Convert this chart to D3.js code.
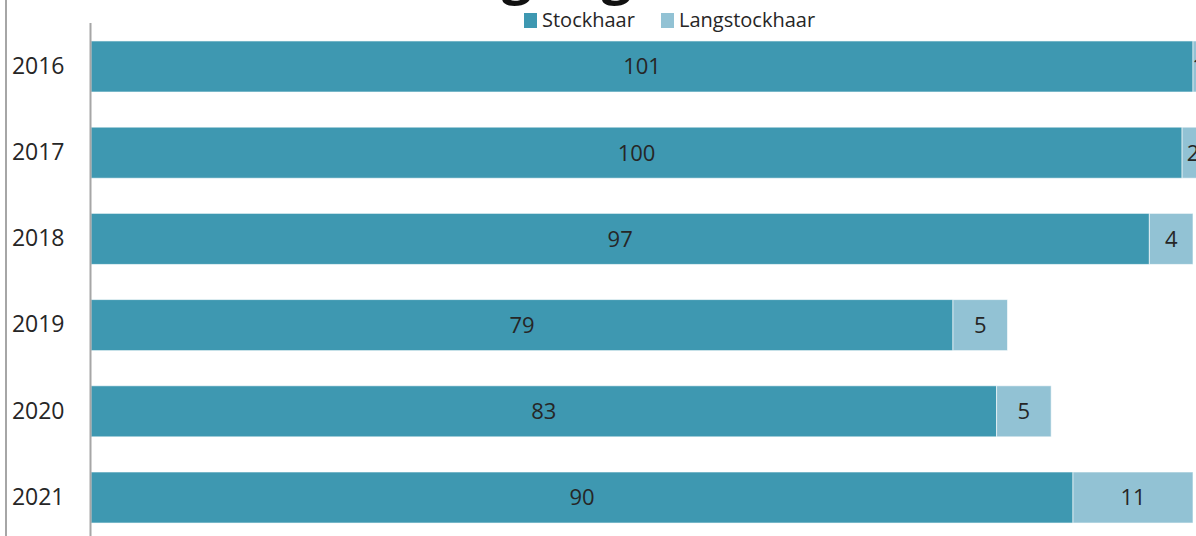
<!DOCTYPE html>
<html lang="de">
<head>
<meta charset="utf-8">
<title>Stockhaar / Langstockhaar</title>
<style>
  html, body { margin: 0; padding: 0; background: #fff; overflow: hidden; }
  svg { display: block; font-family: "Open Sans", "Noto Sans", sans-serif; }
</style>
</head>
<body>
<div id="chart"></div>
<script src="https://cdn.jsdelivr.net/npm/d3@7"></script>
<script>
// data
const years = ["2016", "2017", "2018", "2019", "2020", "2021"];
const stockhaar = [101, 100, 97, 79, 83, 90];
const langstockhaar = [1, 2, 4, 5, 5, 11];
const seriesNames = ["Stockhaar", "Langstockhaar"];
const colors = ["#3e98b1", "#92c2d4"];
const title = "Eintragungen";

const width = 1196, height = 536;

const rows = years.map((y, i) => ({year: y, Stockhaar: stockhaar[i], Langstockhaar: langstockhaar[i]}));
const series = d3.stack().keys(seriesNames)(rows);

const x = d3.scaleLinear()
    .domain([0, 101])
    .range([91, 1193]);

const y = d3.scaleBand()
    .domain(years)
    .range([5.8, 558.2])
    .padding(0.408);

const color = d3.scaleOrdinal().domain(seriesNames).range(colors);

const svg = d3.select("#chart").append("svg")
    .attr("width", width)
    .attr("height", height)
    .attr("viewBox", [0, 0, width, height]);

// title, mostly above the visible area
svg.append("text")
    .attr("x", 342)
    .attr("y", -7)
    .attr("font-size", 53)
    .attr("font-weight", "bold")
    .attr("fill", "#111")
    .text(title);

// outer frame line on the left
svg.append("line")
    .attr("x1", 6).attr("x2", 6)
    .attr("y1", 0).attr("y2", height)
    .attr("stroke", "#a6a6a6")
    .attr("stroke-width", 2);

// bars
svg.append("g")
  .selectAll("g")
  .data(series)
  .join("g")
    .attr("fill", d => color(d.key))
  .selectAll("rect")
  .data(d => d.map(v => Object.assign(v, {key: d.key})))
  .join("rect")
    .attr("x", d => x(d[0]))
    .attr("y", d => y(d.data.year))
    .attr("width", d => x(d[1]) - x(d[0]))
    .attr("height", y.bandwidth())
    .attr("stroke", "#fff")
    .attr("stroke-opacity", 0.6)
    .attr("stroke-width", 1);

// value labels
svg.append("g")
    .attr("font-size", 22)
    .attr("fill", "#262626")
    .attr("text-anchor", "middle")
  .selectAll("g")
  .data(series)
  .join("g")
  .selectAll("text")
  .data(d => d)
  .join("text")
    .attr("x", d => (x(d[0]) + x(d[1])) / 2)
    .attr("y", d => y(d.data.year) + y.bandwidth() / 2)
    .attr("dy", "0.36em")
    .text(d => d[1] - d[0]);

// y axis
const yAxis = svg.append("g")
    .attr("transform", `translate(${x(0) - 0.5},0)`)
    .call(d3.axisLeft(y).tickSize(0).tickPadding(26))
    .call(g => g.select(".domain").remove());
yAxis.selectAll(".tick text")
    .attr("font-size", 23)
    .attr("font-family", "\"Open Sans\", sans-serif")
    .attr("fill", "#262626");
svg.append("line")
    .attr("x1", x(0) - 0.5).attr("x2", x(0) - 0.5)
    .attr("y1", 23).attr("y2", height)
    .attr("stroke", "#a6a6a6")
    .attr("stroke-width", 2);

// legend
const legendX = [524, 661];
const legend = svg.append("g")
  .selectAll("g")
  .data(seriesNames)
  .join("g")
    .attr("transform", (d, i) => `translate(${legendX[i]},12)`);
legend.append("rect")
    .attr("width", 13)
    .attr("height", 15)
    .attr("y", 1)
    .attr("fill", d => color(d));
legend.append("text")
    .attr("x", 18)
    .attr("y", 8)
    .attr("dy", "0.36em")
    .attr("font-size", 20)
    .attr("fill", "#262626")
    .text(d => d);
</script>
</body>
</html>
